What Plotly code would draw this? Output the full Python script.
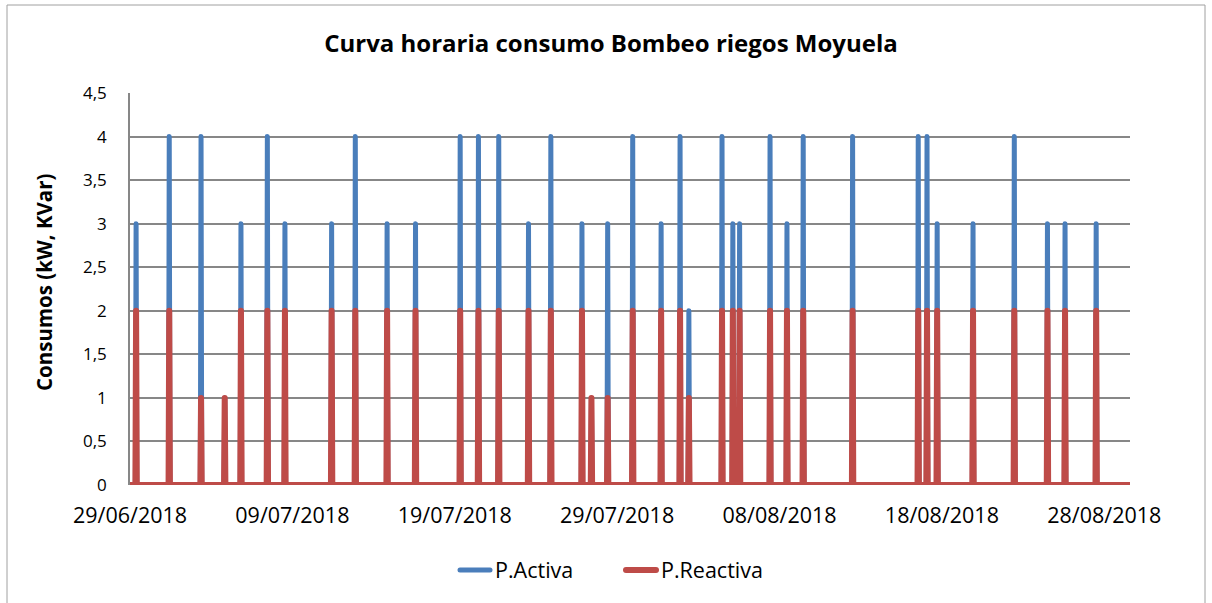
import plotly.graph_objects as go
from datetime import datetime, timedelta

# ---- data ----
series_start = "2018-06-29 00:00"
series_end = "2018-08-29 14:00"

spike_times = [
    "2018-06-29 09:00", "2018-07-01 10:00", "2018-07-03 09:00", "2018-07-04 20:00",
    "2018-07-05 20:00", "2018-07-07 11:00", "2018-07-08 13:00", "2018-07-11 10:00",
    "2018-07-12 21:00", "2018-07-14 20:00", "2018-07-16 14:00", "2018-07-19 08:00",
    "2018-07-20 11:00", "2018-07-21 17:00", "2018-07-23 13:00", "2018-07-24 22:00",
    "2018-07-26 20:00", "2018-07-27 10:00", "2018-07-28 10:00", "2018-07-29 23:00",
    "2018-07-31 17:00", "2018-08-01 21:00", "2018-08-02 10:00", "2018-08-04 11:00",
    "2018-08-05 03:00", "2018-08-05 13:00", "2018-08-07 10:00", "2018-08-08 11:00",
    "2018-08-09 11:00", "2018-08-12 12:00", "2018-08-16 13:00", "2018-08-17 02:00",
    "2018-08-17 17:00", "2018-08-19 22:00", "2018-08-22 11:00", "2018-08-24 12:00",
    "2018-08-25 14:00", "2018-08-27 12:00",
]
p_activa = [
    3, 4, 4, 1, 3, 4, 3, 3, 4, 3, 3, 4, 4, 4, 3, 4, 3, 1, 3, 4,
    3, 4, 2, 4, 3, 3, 4, 3, 4, 4, 4, 4, 3, 3, 4, 3, 3, 3,
]
p_reactiva = [
    2, 2, 1, 1, 2, 2, 2, 2, 2, 2, 2, 2, 2, 2, 2, 2, 2, 1, 1, 2,
    2, 2, 1, 2, 2, 2, 2, 2, 2, 2, 2, 2, 2, 2, 2, 2, 2, 2,
]

tick_dates = ["2018-06-29", "2018-07-09", "2018-07-19", "2018-07-29",
              "2018-08-08", "2018-08-18", "2018-08-28"]
tick_labels = ["29/06/2018", "09/07/2018", "19/07/2018", "29/07/2018",
               "08/08/2018", "18/08/2018", "28/08/2018"]
y_ticks = [0, 0.5, 1, 1.5, 2, 2.5, 3, 3.5, 4, 4.5]
y_tick_labels = ["0", "0,5", "1", "1,5", "2", "2,5", "3", "3,5", "4", "4,5"]

FMT = "%Y-%m-%d %H:%M"


def hourly_curve(times, values):
    """Each reading is an hourly pulse: 0 the hour before, value, 0 the hour after."""
    xs = [datetime.strptime(series_start, FMT)]
    ys = [0]
    one_h = timedelta(hours=1)
    for t, v in zip(times, values):
        tt = datetime.strptime(t, FMT)
        xs += [tt - one_h, tt, tt + one_h]
        ys += [0, v, 0]
    xs.append(datetime.strptime(series_end, FMT))
    ys.append(0)
    return xs, ys


xa, ya = hourly_curve(spike_times, p_activa)
xr, yr = hourly_curve(spike_times, p_reactiva)

BLUE = "#4A7EBB"
RED = "#BE4B48"
GRID = "#878787"
FONT = "Open Sans"

fig = go.Figure()
fig.add_trace(go.Scatter(x=xa, y=ya, mode="lines", name="P.Activa",
                         line=dict(color=BLUE, width=5)))
fig.add_trace(go.Scatter(x=xr, y=yr, mode="lines", name="P.Reactiva",
                         line=dict(color=RED, width=6)))

fig.update_layout(
    width=1212, height=603,
    margin=dict(l=130, r=82, t=93, b=118),
    paper_bgcolor="white", plot_bgcolor="white",
    font=dict(family=FONT, color="black"),
    title=dict(text="<b>Curva horaria consumo Bombeo riegos Moyuela</b>",
               x=611 / 1212, xref="container", xanchor="center",
               y=1 - 44 / 603, yref="container", yanchor="middle",
               font=dict(size=24, family=FONT, color="black")),
    showlegend=True,
    legend=dict(orientation="h", xref="container", yref="container",
                x=621 / 1212, xanchor="center", y=1 - 570 / 603, yanchor="middle",
                font=dict(size=21.5, family=FONT, color="black"),
                entrywidth=121, entrywidthmode="pixels",
                bgcolor="rgba(0,0,0,0)"),
)

fig.update_xaxes(
    type="date",
    range=[series_start, series_end],
    tickvals=tick_dates, ticktext=tick_labels,
    tickfont=dict(size=21.5, family=FONT, color="black"),
    showgrid=False, zeroline=False,
    showline=False, ticks="", ticklabelstandoff=15,
)
fig.update_yaxes(
    range=[0, 4.5],
    tickvals=y_ticks, ticktext=y_tick_labels,
    tickfont=dict(size=17, family=FONT, color="black"),
    showgrid=True, gridcolor=GRID, gridwidth=1.5,
    zeroline=False, showline=True, linecolor=GRID, linewidth=1.5,
    ticks="", ticklabelstandoff=18,
)

fig.add_annotation(text="<b>Consumos (kW, KVar)</b>", textangle=-90,
                   xref="paper", yref="paper",
                   x=(44 - 130) / 1000, y=(485 - 282) / 392,
                   xanchor="center", yanchor="middle", showarrow=False,
                   font=dict(size=20.5, family=FONT, color="black"))

# chart-area frame
fig.add_shape(type="rect", xref="paper", yref="paper",
              x0=(7 - 130) / 1000, x1=(1205 - 130) / 1000,
              y0=(485 - 640) / 392, y1=(485 - 5) / 392,
              line=dict(color="#A0A0A0", width=1), layer="below")

fig.write_html(
    "out.html",
    config={"displayModeBar": False},
    post_script=(
        "document.body.style.margin='0';"
        "document.querySelectorAll('.js-line').forEach(function(p){"
        "p.style.strokeLinejoin='round';p.style.strokeLinecap='round';});"
    ),
)
